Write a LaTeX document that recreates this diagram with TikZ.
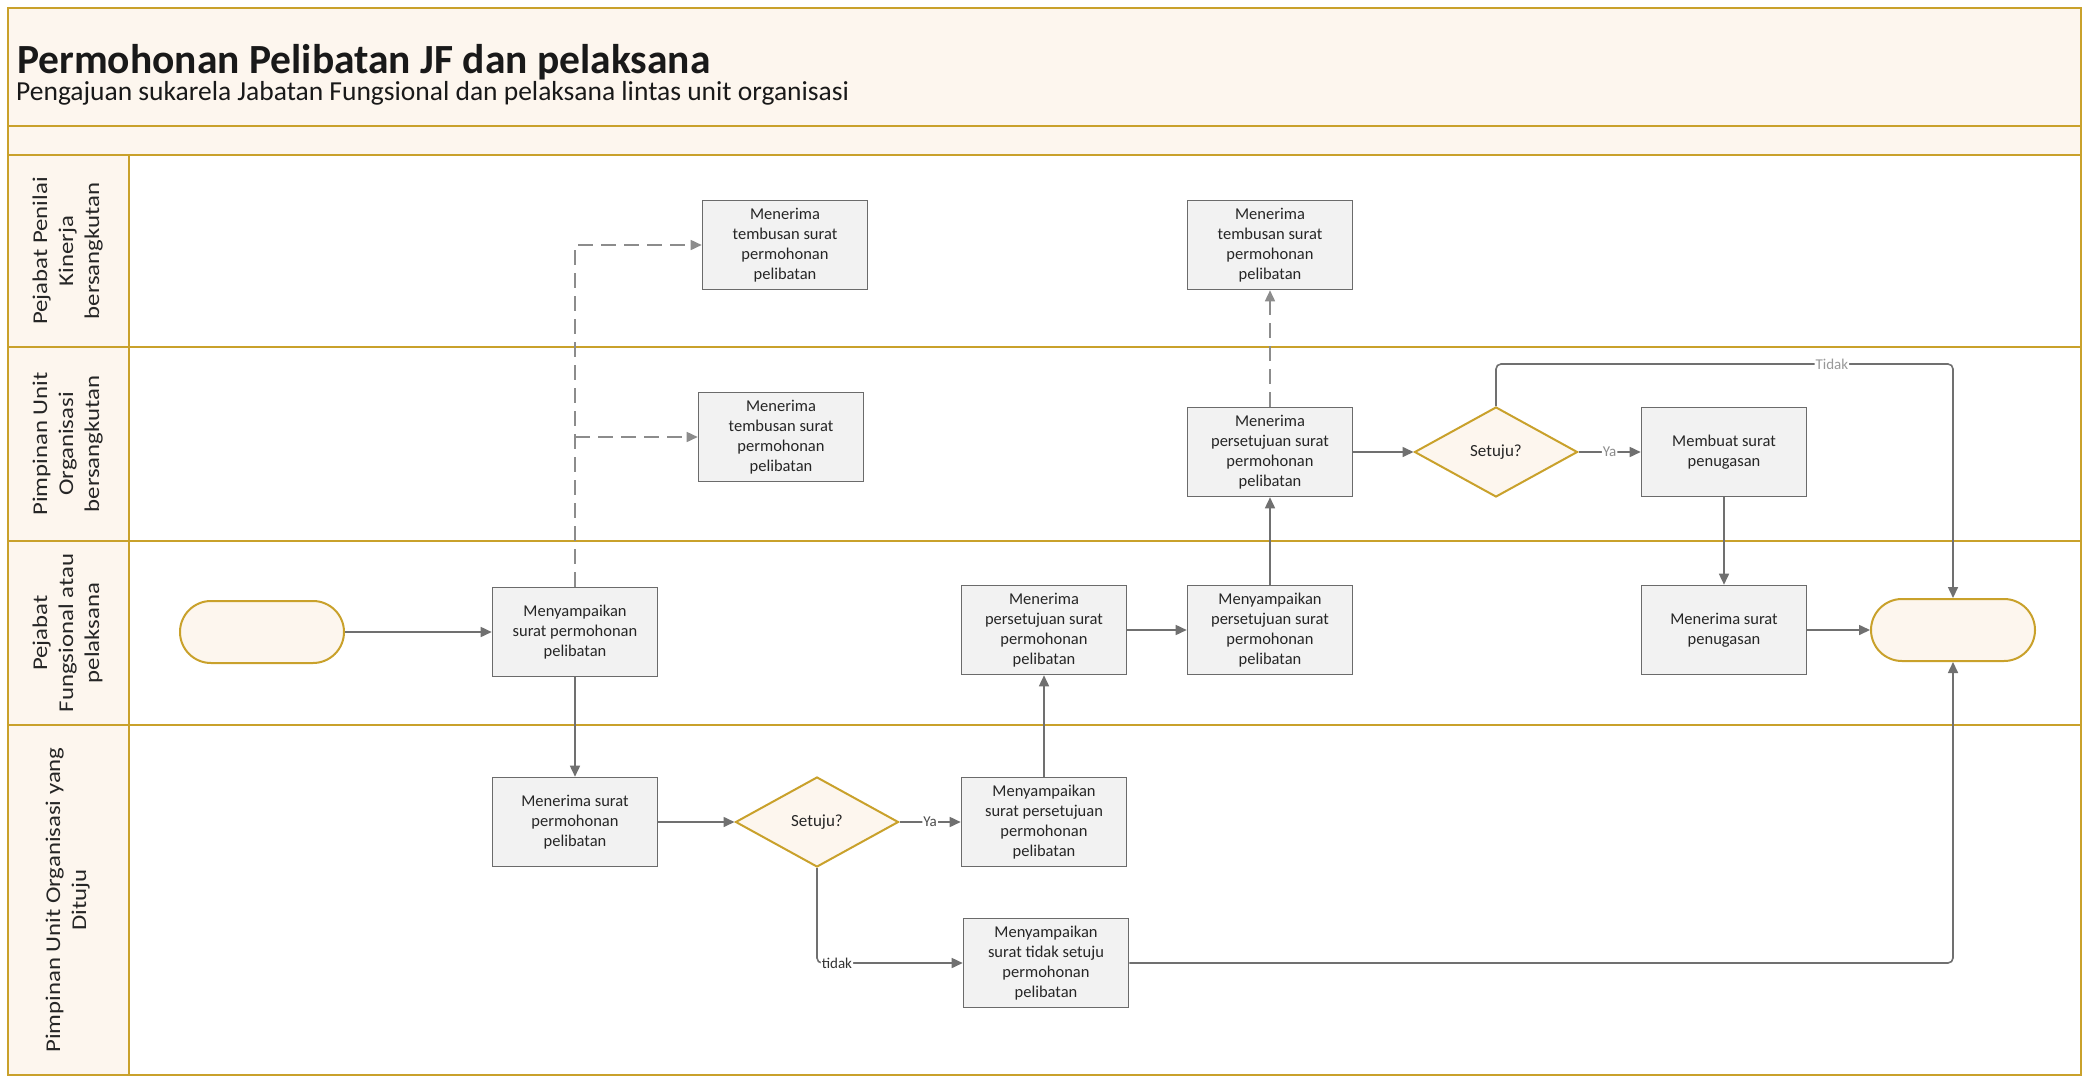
\documentclass[tikz,border=0pt]{standalone}
\usepackage{fontspec}
\setmainfont{Carlito}
\usetikzlibrary{arrows.meta,shapes.geometric}

\definecolor{gold}{HTML}{C9A12B}
\definecolor{cream}{HTML}{FDF6EE}
\definecolor{taskfill}{HTML}{F2F2F2}
\definecolor{taskline}{HTML}{6B6B6B}
\definecolor{flow}{HTML}{707070}
\definecolor{dashflow}{HTML}{8C8C8C}

% vertical lane captions, stretched along the baseline
\newcommand{\lanecaption}[1]{\scalebox{1.18}[1]{\begin{tabular}{@{}c@{}}#1\end{tabular}}}

\begin{document}
\begin{tikzpicture}[x=1pt,y=-1pt,
  laneline/.style={draw=gold,line width=2pt},
  lanehead/.style={rotate=90,inner sep=0pt,font=\fontsize{21}{26}\selectfont,text=black!85},
  task/.style={draw=taskline,fill=taskfill,line width=1.6pt,minimum width=165pt,
    minimum height=89pt,align=center,inner sep=2pt,
    font=\fontsize{16.5}{20}\selectfont,text=black!85},
  decision/.style={diamond,aspect=1.8,draw=gold,fill=cream,line width=2pt,
    minimum width=163pt,minimum height=90pt,inner sep=0pt,
    font=\fontsize{17}{20}\selectfont,text=black!85},
  terminal/.style={draw=gold,fill=cream,line width=2pt,rounded corners=31pt,
    minimum width=164pt,minimum height=62pt},
  flowarrow/.style={draw=flow,line width=1.6pt,rounded corners=5pt,
    -{Triangle[length=11pt,width=10pt]}},
  dasharrow/.style={draw=dashflow,line width=1.6pt,dash pattern=on 15pt off 8pt,
    -{Triangle[length=11pt,width=10pt]}},
  flowlabel/.style={fill=white,inner sep=1pt,font=\fontsize{15}{18}\selectfont},
]

% page and pool frame
\useasboundingbox (0,0) rectangle (2083,1076);
\fill[white] (0,0) rectangle (2083,1076);
\fill[cream] (8,8) rectangle (2081,155);
\fill[cream] (8,155) rectangle (129,1075);
\draw[laneline] (8,126) -- (2081,126);
\draw[laneline] (8,155) -- (2081,155);
\draw[laneline] (8,347) -- (2081,347);
\draw[laneline] (8,541) -- (2081,541);
\draw[laneline] (8,725) -- (2081,725);
\draw[laneline] (129,155) -- (129,1075);
\draw[laneline] (8,8) rectangle (2081,1075);

% heading
\node[anchor=base west,inner sep=0pt,font=\fontsize{41.5}{48}\selectfont\bfseries,text=black!90]
  (title) at (17,73) {Permohonan Pelibatan JF dan pelaksana};
\node[anchor=base west,inner sep=0pt,font=\fontsize{27.5}{32}\selectfont,text=black!90]
  (subtitle) at (16,100) {Pengajuan sukarela Jabatan Fungsional dan pelaksana lintas unit organisasi};

% lane captions
\node[lanehead] (lane1) at (68,251) {\lanecaption{Pejabat Penilai\\Kinerja\\bersangkutan}};
\node[lanehead] (lane2) at (68,444) {\lanecaption{Pimpinan Unit\\Organisasi\\bersangkutan}};
\node[lanehead] (lane3) at (68,633) {\lanecaption{Pejabat\\Fungsional atau\\pelaksana}};
\node[lanehead] (lane4) at (68,900) {\lanecaption{Pimpinan Unit Organisasi yang\\Dituju}};

% process steps
\node[terminal] (start) at (262,632) {};
\node[task] (ajukan) at (575,632) {Menyampaikan\\surat permohonan\\pelibatan};
\node[task] (terimaaju) at (575,822) {Menerima surat\\permohonan\\pelibatan};
\node[decision] (setuju1) at (817,822) {Setuju?};
\node[task] (kirimsetuju) at (1044,822) {Menyampaikan\\surat persetujuan\\permohonan\\pelibatan};
\node[task] (kirimtolak) at (1046,963) {Menyampaikan\\surat tidak setuju\\permohonan\\pelibatan};
\node[task] (terimasetuju) at (1044,630) {Menerima\\persetujuan surat\\permohonan\\pelibatan};
\node[task] (teruskan) at (1270,630) {Menyampaikan\\persetujuan surat\\permohonan\\pelibatan};
\node[task] (unitterima) at (1270,452) {Menerima\\persetujuan surat\\permohonan\\pelibatan};
\node[task] (tembusanB) at (1270,245) {Menerima\\tembusan surat\\permohonan\\pelibatan};
\node[task] (tembusanA) at (785,245) {Menerima\\tembusan surat\\permohonan\\pelibatan};
\node[task] (tembusanU) at (781,437) {Menerima\\tembusan surat\\permohonan\\pelibatan};
\node[decision] (setuju2) at (1496,452) {Setuju?};
\node[task] (buattugas) at (1724,452) {Membuat surat\\penugasan};
\node[task] (terimatugas) at (1724,630) {Menerima surat\\penugasan};
\node[terminal] (finish) at (1953,630) {};

% connectors
\coordinate (toprun) at (0,364);
\draw[flowarrow] (start) -- (ajukan);
\draw[flowarrow] (ajukan) -- (terimaaju);
\draw[dasharrow] (ajukan.north) |- (tembusanA.west);
\draw[dasharrow] (ajukan.north |- tembusanU.west) -- (tembusanU.west);
\draw[flowarrow] (terimaaju) -- (setuju1);
\draw[flowarrow] (setuju1) -- node[flowlabel,text=black!70] {Ya} (kirimsetuju);
\draw[flowarrow] (setuju1.south) |- node[pos=0.5,flowlabel,anchor=west,xshift=3pt,text=black!80] {tidak} (kirimtolak.west);
\draw[flowarrow] (kirimsetuju) -- (terimasetuju);
\draw[flowarrow] (terimasetuju) -- (teruskan);
\draw[flowarrow] (teruskan) -- (unitterima);
\draw[dasharrow] (unitterima) -- (tembusanB);
\draw[flowarrow] (unitterima) -- (setuju2);
\draw[flowarrow] (setuju2) -- node[flowlabel,text=black!45] {Ya} (buattugas);
\draw[flowarrow] (setuju2.north) -- (setuju2.north |- toprun)
  -- node[pos=0.735,flowlabel,text=black!40] {Tidak} (finish.north |- toprun) -- (finish.north);
\draw[flowarrow] (buattugas) -- (terimatugas);
\draw[flowarrow] (terimatugas) -- (finish);
\draw[flowarrow] (kirimtolak.east) -| (finish.south);
\end{tikzpicture}
\end{document}
